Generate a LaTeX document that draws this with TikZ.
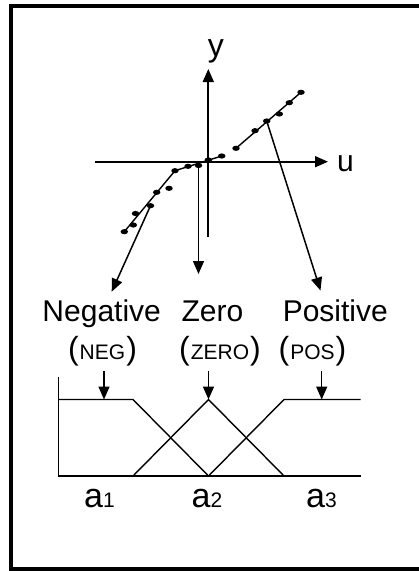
\documentclass[tikz,border=0pt]{standalone}
\usepackage{fontspec}
\setmainfont{Liberation Sans}
\usetikzlibrary{arrows.meta,shapes.geometric}
\newcommand{\fs}[1]{\fontsize{#1}{#1}\selectfont}

\begin{document}
\begin{tikzpicture}[x=1pt,y=-1pt,
      txt/.style={inner sep=0pt,anchor=base,font=\fs{30}},
      tag/.style={txt,font=\fs{32}},
      idx/.style={txt,font=\fs{34}},
      dot/.style={ellipse,fill,inner sep=0pt,minimum width=7.5pt,minimum height=5.2pt},
      ax/.style={line width=1.8pt,-{Triangle[length=13pt,width=11pt]}},
      pick/.style={line width=1.5pt,-{Triangle[length=13pt,width=11pt]}},
      mf/.style={line width=1.4pt}]
      \useasboundingbox (0,0) rectangle (419,571);
      \draw[line width=4pt] (425,6.2) -| (11.3,568.7) -- (425,568.7);
      % axes
      \coordinate (ylo) at (208.3,237);
      \coordinate (yhi) at (208.3,69);
      \coordinate (ulo) at (95,161.7);
      \coordinate (uhi) at (328,161.7);
      \draw[ax] (ylo) -- (yhi);
      \draw[ax] (ulo) -- (uhi);
      \node[txt,font=\fs{32}] (ylab) at (215.8,56.5) {y};
      \node[txt] (ulab) at (345.5,171.5) {u};
      % data points and fitted lines
      \foreach \x/\y [count=\i] in {124.3/231.7,133.3/225,135.5/213.5,150.5/205.7,156.7/192.3,169/188.3,175/170.7,188/166.3,198.5/165.5,208.3/160,221.7/156,236/148.3,255/130.7,266.7/121,279.3/114,289.3/102.7,301/92.3}
        \node[dot] (d\i) at (\x,\y) {};
      \draw[mf] (d1.center) -- (d7.center) -- (d11.center);
      \draw[mf] (d12.center) -- (d17.center);
      % linguistic labels
      \node[txt] (neg) at (101.7,321) {Negative};
      \node[txt] (zero) at (212.5,321) {Zero};
      \node[txt] (pos) at (335.3,321) {Positive};
      \node[tag] (negs) at (102.5,359.5) {(\kern1pt{\fs{21}NEG}\kern1pt)};
      \node[tag] (zeros) at (220,359.5) {(\kern1pt{\fs{21}ZERO}\kern1pt)};
      \node[tag] (poss) at (312.5,359.5) {(\kern1pt{\fs{21}POS}\kern1pt)};
      \coordinate (tneg) at (111.7,291.7);
      \coordinate (tzero) at (198.5,274);
      \coordinate (tpos) at (320.5,290.5);
      \foreach \s/\t in {d4/tneg,d9/tzero,d14/tpos}
        \draw[pick] (\s.center) -- (\t);
      % membership functions
      \coordinate (o) at (58.3,476);
      \draw[mf] (58.3,376.7) -- (o) -- (360.7,476);
      \draw[mf] (o |- 0,399.5) -- (133,399.5) -- (208.5,476);
      \draw[mf] (133,476) -- (208.5,399.5) -- (284,476);
      \draw[mf] (208.5,476) -- (284,399.5) -- (360.7,399.5);
      \foreach \n/\x in {m1/104,m2/208.5,m3/321.7} {
        \coordinate (\n t) at (\x,371);
        \coordinate (\n) at (\x,399.5);
        \draw[pick] (\n t) -- (\n);
      }
      \node[idx] (a1) at (99.5,507) {a{\fs{21}1}};
      \node[idx] (a2) at (207,507) {a{\fs{21}2}};
      \node[idx] (a3) at (321.5,507) {a{\fs{21}3}};
    \end{tikzpicture}
\end{document}
